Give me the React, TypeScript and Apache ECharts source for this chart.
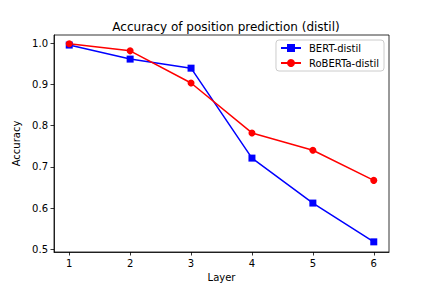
import React, { useEffect, useRef } from "react";
import * as echarts from "echarts";

const layers = [1, 2, 3, 4, 5, 6];
const bertDistil = [0.995, 0.961, 0.939, 0.721, 0.612, 0.518];
const robertaDistil = [0.998, 0.981, 0.903, 0.782, 0.740, 0.667];
const yTicks = [0.5, 0.6, 0.7, 0.8, 0.9, 1.0];
const xTicks = [1, 2, 3, 4, 5, 6];

const FONT = "DejaVu Sans";

export default function App() {
  const ref = useRef<HTMLDivElement>(null);
  useEffect(() => {
    if (!ref.current) return;
    const chart = echarts.init(ref.current, null, { renderer: "svg" });
    chart.setOption({
      animation: false,
      backgroundColor: "#fff",
      textStyle: { fontFamily: FONT },
      title: {
        text: "Accuracy of position prediction (distil)",
        left: 221,
        textAlign: "center",
        top: 16,
        textStyle: { fontFamily: FONT, fontSize: 12, fontWeight: "normal", color: "#000" },
      },
      grid: {
        left: 54,
        right: 43,
        top: 35,
        bottom: 36,
        show: true,
        borderColor: "#000",
        borderWidth: 0.8,
        backgroundColor: "transparent",
      },
      legend: {
        orient: "vertical",
        right: 48,
        top: 40,
        itemWidth: 20,
        itemHeight: 10,
        itemGap: 5,
        padding: [3, 5, 3, 4],
        borderColor: "#ccc",
        borderWidth: 1,
        borderRadius: 3,
        backgroundColor: "rgba(255,255,255,0.8)",
        textStyle: { fontFamily: FONT, fontSize: 10, color: "#000", padding: [0, 0, 0, 3] },
        data: ["BERT-distil", "RoBERTa-distil"],
      },
      xAxis: {
        type: "value",
        min: 0.75,
        max: 6.25,
        name: "Layer",
        nameLocation: "middle",
        nameGap: 20,
        nameTextStyle: { fontFamily: FONT, fontSize: 10, color: "#000" },
        splitLine: { show: false },
        axisLine: { show: true, lineStyle: { color: "#000", width: 0.8 } },
        axisTick: { show: true, length: 3.5, lineStyle: { color: "#000", width: 0.8 }, customValues: xTicks },
        axisLabel: { fontFamily: FONT, fontSize: 10, color: "#000", margin: 6, customValues: xTicks },
      },
      yAxis: {
        type: "value",
        min: 0.4934,
        max: 1.0194,
        name: "Accuracy",
        nameLocation: "middle",
        nameGap: 29,
        nameTextStyle: { fontFamily: FONT, fontSize: 10, color: "#000" },
        splitLine: { show: false },
        axisLine: { show: true, lineStyle: { color: "#000", width: 0.8 } },
        axisTick: { show: true, length: 3.5, lineStyle: { color: "#000", width: 0.8 }, customValues: yTicks },
        axisLabel: {
          fontFamily: FONT,
          fontSize: 10,
          color: "#000",
          margin: 6,
          customValues: yTicks,
          formatter: (v: number) => v.toFixed(1),
        },
      },
      series: [
        {
          name: "BERT-distil",
          type: "line",
          data: layers.map((l, i) => [l, bertDistil[i]]),
          symbol: "rect",
          symbolSize: 7,
          itemStyle: { color: "#0000ff" },
          lineStyle: { color: "#0000ff", width: 1.5 },
        },
        {
          name: "RoBERTa-distil",
          type: "line",
          data: layers.map((l, i) => [l, robertaDistil[i]]),
          symbol: "circle",
          symbolSize: 7,
          itemStyle: { color: "#ff0000" },
          lineStyle: { color: "#ff0000", width: 1.5 },
        },
      ],
    });
    return () => chart.dispose();
  }, []);
  return <div ref={ref} style={{ width: 432, height: 288, position: "absolute", left: 0, top: 0 }} />;
}
